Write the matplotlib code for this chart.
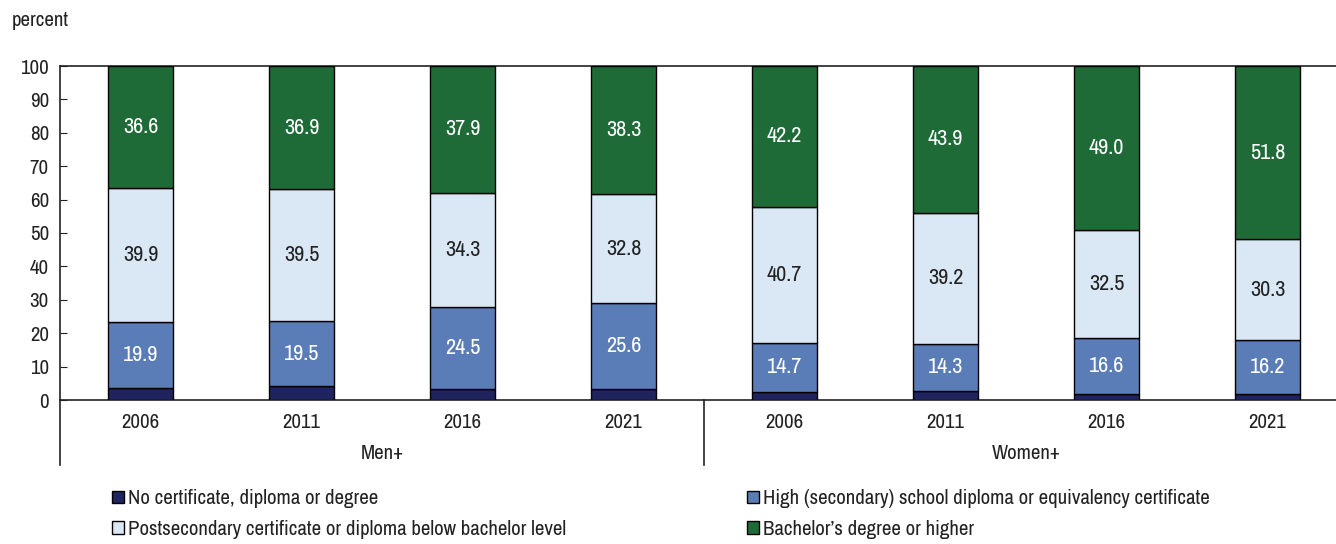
import numpy as np
import matplotlib.pyplot as plt
from matplotlib.patches import Patch
import matplotlib.font_manager as fm

# --- font: narrow sans if present ---
names = sorted({f.name for f in fm.fontManager.ttflist})
narrow = [n for n in names if 'Condensed' in n or 'Narrow' in n]
base = narrow[0] if narrow else 'Liberation Sans'
plt.rcParams['font.family'] = [base, 'DejaVu Sans']

# --- data ---
years = ['2006', '2011', '2016', '2021', '2006', '2011', '2016', '2021']
groups = ['Men+', 'Women+']
no_cert = [3.6, 4.1, 3.3, 3.3, 2.4, 2.6, 1.9, 1.7]
high_school = [19.9, 19.5, 24.5, 25.6, 14.7, 14.3, 16.6, 16.2]
postsec = [39.9, 39.5, 34.3, 32.8, 40.7, 39.2, 32.5, 30.3]
bachelor = [36.6, 36.9, 37.9, 38.3, 42.2, 43.9, 49.0, 51.8]

series = [
    ('No certificate, diploma or degree', no_cert, '#20245e', None),
    ('High (secondary) school diploma or equivalency certificate', high_school, '#5b7db7', 'white'),
    ('Postsecondary certificate or diploma below bachelor level', postsec, '#dae8f6', '#222222'),
    ('Bachelor\u2019s degree or higher', bachelor, '#1e6b37', 'white'),
]

FS = 15

fig = plt.figure(figsize=(13.36, 5.44), dpi=100)
# axes runs slightly past the right edge, as in the original
ax = fig.add_axes([60 / 1336, 1 - 400 / 544, 1288 / 1336, 334 / 544])

x = np.arange(len(years))
bottom = np.zeros(len(years))
handles = []
for label, vals, color, tcolor in series:
    vals = np.array(vals)
    ax.bar(x, vals, 0.4, bottom=bottom, color=color, edgecolor='black', linewidth=1, zorder=3)
    if tcolor:
        for xi, b, v in zip(x, bottom, vals):
            ax.text(xi, b + v / 2, f'{v:.1f}', ha='center', va='center',
                    color=tcolor, fontsize=16, zorder=4)
    bottom += vals
    handles.append(Patch(facecolor=color, edgecolor='black', linewidth=1, label=label))

ax.set_xlim(-0.5, 7.5)
ax.set_ylim(0, 100)
ax.set_yticks(range(0, 101, 10))
ax.tick_params(axis='y', direction='in', length=5, labelsize=FS, colors='#222222', pad=8)
ax.tick_params(axis='x', length=0, labelsize=FS, colors='#222222', pad=9)
ax.set_xticks(x)
ax.set_xticklabels(years)
ax.spines['right'].set_visible(False)
for s in ['left', 'top', 'bottom']:
    ax.spines[s].set_linewidth(1.2)
    ax.spines[s].set_color('#222222')

# group separators and labels below axis
sep_depth = -65 / 334
for xs in [-0.5, 3.5]:
    ax.plot([xs, xs], [0, sep_depth * 100], color='#222222', lw=1.2,
            clip_on=False, transform=ax.transData)
for i, g in enumerate(groups):
    ax.text(1.5 + 4 * i, -16, g, ha='center', va='center', fontsize=FS, color='#222222')

fig.text(12 / 1336, 1 - 21 / 544, 'percent', fontsize=FS, color='#222222', va='center')

order = [handles[0], handles[2], handles[1], handles[3]]
fig.legend(handles=order, labels=[h.get_label() for h in order], ncol=2,
           loc='upper left', bbox_to_anchor=(104 / 1336, 1 - 481 / 544),
           frameon=False, fontsize=FS, handlelength=0.55, handleheight=0.55,
           handletextpad=0.2, columnspacing=8.7, labelspacing=0.55,
           labelcolor='#222222', borderaxespad=0)

fig.savefig('out.png', dpi=100)
